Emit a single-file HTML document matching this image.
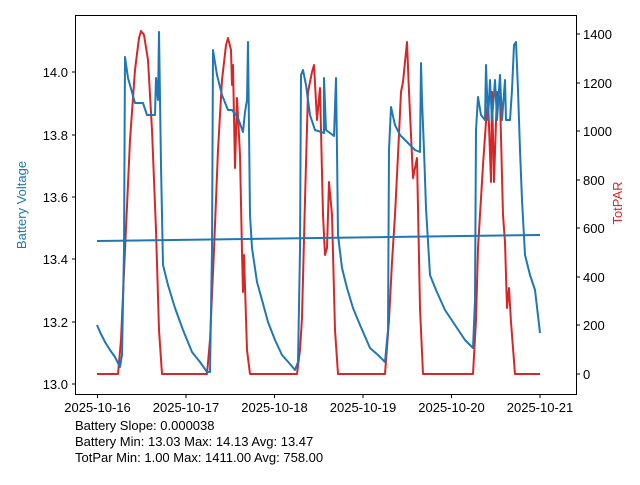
<!DOCTYPE html>
<html><head><meta charset="utf-8"><style>
body{margin:0;background:#fff}
svg text{font-family:"Liberation Sans","DejaVu Sans",sans-serif;font-size:13px;fill:#000}
</style></head><body>
<svg width="640" height="480" viewBox="0 0 640 480" xmlns="http://www.w3.org/2000/svg">
<rect width="640" height="480" fill="#fff"/>
<g fill="none" stroke-width="2" stroke-linejoin="round">
<polyline stroke="#d62728" points="97,374 118,374 121,340 125,250 130,140 135,70 139,38 141,31 144,35 148,60 152,130 156,230 159,330 162,374 207,374 210,340 214,250 218,150 222,80 226,45 228,38 231,50 232,85 233,65 235,168 237,98 240,155 242,252 243,292 244,255 247,350 250,374 297,374 300,350 302,318 305,200 308,92 312,72 314,65 317,120 320,88 323,215 325,255 327,248 329,182 332,215 335,330 338,374 385,374 389,320 392,262 395,215 398,155 401,92 403,82 406,52 407,42 409,92 413,178 417,158 420,308 423,374 473,374 476,320 478,248 483,165 486,122 488,98 491,182 492,92 494,182 497,92 500,98 503,215 505,242 507,308 509,288 511,322 515,374 540,374"/>
<polyline stroke="#1f77b4" points="97,325 100,332 105,342 110,350 115,357 120,367 122,355 124,250 125,57 128,78 135,103 143,103 147,115 155,115 156,78 158,100 159,32 161,165 163,265 168,285 175,308 183,330 192,352 200,362 207,372 210,372 212,250 213,50 217,75 222,95 228,110 232,110 238,118 243,132 245,112 247,100 248,42 250,215 252,248 257,282 262,300 268,322 275,340 282,355 290,364 295,370 298,362 300,250 301,75 303,70 306,85 310,115 315,130 324,133 324,78 326,130 334,136 336,78 337,150 338,235 342,268 347,288 353,308 360,325 370,348 378,355 385,362 388,330 389,150 391,107 395,125 400,135 410,145 415,150 420,152 421,63 422,100 424,150 426,208 430,275 436,290 445,310 455,325 465,340 473,348 475,300 476,130 478,97 481,115 485,120 486,65 488,120 490,80 492,120 495,80 497,120 500,75 502,120 505,80 506,120 510,120 512,90 514,45 516,42 518,90 520,150 522,200 525,255 530,275 535,290 540,333"/>
<line stroke="#1f77b4" x1="97" y1="241" x2="540" y2="235"/>
</g>
<rect x="75.5" y="15.5" width="501" height="379" fill="none" stroke="#000" stroke-width="1"/>
<g stroke="#000" stroke-width="1">
<line x1="72" y1="384" x2="75" y2="384"/><line x1="72" y1="322" x2="75" y2="322"/><line x1="72" y1="259" x2="75" y2="259"/><line x1="72" y1="197" x2="75" y2="197"/><line x1="72" y1="135" x2="75" y2="135"/><line x1="72" y1="72" x2="75" y2="72"/>
<line x1="577" y1="374" x2="580" y2="374"/><line x1="577" y1="325" x2="580" y2="325"/><line x1="577" y1="277" x2="580" y2="277"/><line x1="577" y1="228" x2="580" y2="228"/><line x1="577" y1="180" x2="580" y2="180"/><line x1="577" y1="131" x2="580" y2="131"/><line x1="577" y1="83" x2="580" y2="83"/><line x1="577" y1="34" x2="580" y2="34"/>
<line x1="97.5" y1="395" x2="97.5" y2="398"/><line x1="186" y1="395" x2="186" y2="398"/><line x1="274.5" y1="395" x2="274.5" y2="398"/><line x1="363" y1="395" x2="363" y2="398"/><line x1="451.5" y1="395" x2="451.5" y2="398"/><line x1="540" y1="395" x2="540" y2="398"/>
</g>
<g text-anchor="end">
<text x="68" y="389">13.0</text><text x="68" y="327">13.2</text><text x="68" y="264">13.4</text><text x="68" y="202">13.6</text><text x="68" y="140">13.8</text><text x="68" y="77">14.0</text>
</g>
<g>
<text x="583" y="379">0</text><text x="583" y="330">200</text><text x="583" y="282">400</text><text x="583" y="233">600</text><text x="583" y="185">800</text><text x="583" y="136">1000</text><text x="583" y="88">1200</text><text x="583" y="39">1400</text>
</g>
<g text-anchor="middle">
<text x="97.5" y="412">2025-10-16</text><text x="186" y="412">2025-10-17</text><text x="274.5" y="412">2025-10-18</text><text x="363" y="412">2025-10-19</text><text x="451.5" y="412">2025-10-20</text><text x="540" y="412">2025-10-21</text>
</g>
<text transform="translate(26,205) rotate(-90)" text-anchor="middle" style="fill:#1f77b4">Battery Voltage</text>
<text transform="translate(622,203) rotate(-90)" text-anchor="middle" style="fill:#d62728">TotPAR</text>
<text x="75" y="430">Battery Slope: 0.000038</text>
<text x="75" y="446">Battery Min: 13.03 Max: 14.13 Avg: 13.47</text>
<text x="75" y="462">TotPar Min: 1.00 Max: 1411.00 Avg: 758.00</text>
</svg>
</body></html>
